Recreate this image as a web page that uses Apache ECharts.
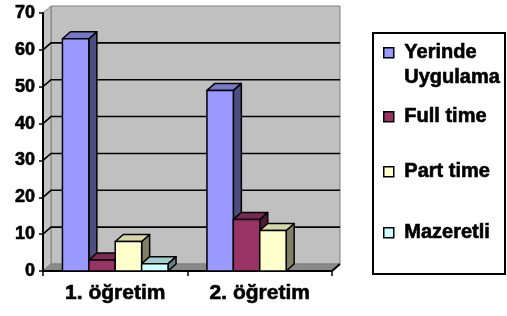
<!DOCTYPE html>
<html><head><meta charset="utf-8">
<script src="https://cdn.jsdelivr.net/npm/echarts@6/dist/echarts.min.js"></script>
<style>html,body{margin:0;padding:0;background:#fff}#c{width:507px;height:316px}</style>
</head><body><div id="c"></div>
<script>
// ---- data ----
const categories = ['1. öğretim', '2. öğretim'];
const seriesNames = ['Yerinde Uygulama', 'Full time', 'Part time', 'Mazeretli'];
const yerinde = [63, 49];
const fullTime = [3, 14];
const partTime = [8, 11];
const mazeretli = [2, 0];
const yTicks = [0, 10, 20, 30, 40, 50, 60, 70];

// ---- style ----
const frontColors = ['#9999FF', '#993366', '#FFFFCC', '#CCFFFF'];
const topColors = ['#7878C8', '#7A2952', '#D6D6A8', '#A3CCCC'];
const sideColors = ['#4D4D80', '#4D1A33', '#808066', '#668080'];
const DX = 8, DY = -7;
const BAR_FRAC = 0.1827;
const FONT = 'Liberation Sans';
const TB = {textBorderColor: '#000', textBorderWidth: 0.6};

const allValues = [yerinde, fullTime, partTime, mazeretli];

function barRenderer(si) {
  return function (params, api) {
    const v = api.value(1);
    if (!v) return null;
    const ci = api.value(0);
    const base = api.coord([ci, 0]);
    const tp = api.coord([ci, v]);
    const band = api.size([1, 0])[0];
    const w = band * BAR_FRAC;
    const x0 = base[0] - 2 * w + si * w;
    const x1 = x0 + w;
    const yb = base[1], yt = tp[1];
    const st = {stroke: '#000', lineWidth: 1.5, lineJoin: 'round'};
    return {type: 'group', children: [
      {type: 'polygon', shape: {points: [[x1, yb], [x1 + DX, yb + DY], [x1 + DX, yt + DY], [x1, yt]]}, style: Object.assign({fill: sideColors[si]}, st)},
      {type: 'polygon', shape: {points: [[x0, yt], [x1, yt], [x1 + DX, yt + DY], [x0 + DX, yt + DY]]}, style: Object.assign({fill: topColors[si]}, st)},
      {type: 'rect', shape: {x: x0, y: yt, width: w, height: yb - yt}, style: Object.assign({fill: frontColors[si]}, st)}
    ]};
  };
}

function wallRenderer(params, api) {
  const cs = params.coordSys;
  const L = cs.x, R = cs.x + cs.width, T = cs.y, B = cs.y + cs.height;
  const ch = [];
  ch.push({type: 'rect', shape: {x: L + DX, y: T + DY, width: R - L, height: B - T}, style: {fill: '#C0C0C0', stroke: '#808080', lineWidth: 1}});
  ch.push({type: 'polygon', shape: {points: [[L, T], [L + DX, T + DY], [L + DX, B + DY], [L, B]]}, style: {fill: '#C4C4C4', stroke: '#808080', lineWidth: 1}});
  ch.push({type: 'polygon', shape: {points: [[L, B], [R, B], [R + DX, B + DY], [L + DX, B + DY]]}, style: {fill: '#8A8A8A', stroke: '#808080', lineWidth: 1}});
  const first = yTicks[0], last = yTicks[yTicks.length - 1];
  yTicks.forEach(function (t) {
    if (t === first || t === last) return;
    const y = api.coord([0, t])[1];
    ch.push({type: 'polyline', shape: {points: [[L, y], [L + DX, y + DY], [R + DX, y + DY]]}, style: {stroke: '#000', lineWidth: 1.6, fill: null}});
  });
  ch.push({type: 'line', shape: {x1: R, y1: B, x2: R + DX, y2: B + DY}, style: {stroke: '#000', lineWidth: 2}});
  return {type: 'group', children: ch};
}

function textStyleOf(lh) {
  return Object.assign({fontFamily: FONT, fontSize: 20, fontWeight: 'bold', color: '#000', lineHeight: lh}, TB);
}

function mkLegend(name, top, extra) {
  return Object.assign({
    data: [name], left: 383, top: top, orient: 'vertical', padding: 0,
    itemWidth: 10, itemHeight: 10, icon: 'rect', selectedMode: false,
    itemGap: 0,
    itemStyle: {borderColor: '#000', borderWidth: 1.5},
    textStyle: textStyleOf(24),
    formatter: function (n) { return ' ' + n; }
  }, extra || {});
}

const series = [{
  type: 'custom', name: '_walls', z: -1, clip: false, silent: true,
  renderItem: wallRenderer, data: [[0, 0]], encode: {x: 0, y: 1}
}];
seriesNames.forEach(function (n, si) {
  series.push({
    type: 'custom', name: n, z: 2, clip: false,
    itemStyle: {color: frontColors[si]},
    renderItem: barRenderer(si),
    encode: {x: 0, y: 1},
    data: allValues[si].map(function (v, i) { return [i, v]; })
  });
});

const chart = echarts.init(document.getElementById('c'), null, {renderer: 'canvas'});
chart.setOption({
  animation: false,
  backgroundColor: '#fff',
  grid: {left: 43, right: 175, top: 13, bottom: 45, containLabel: false, outerBoundsMode: 'none'},
  xAxis: {
    type: 'category', data: categories, boundaryGap: true,
    axisLine: {lineStyle: {color: '#000', width: 2}},
    axisTick: {show: true, length: 5, lineStyle: {color: '#000', width: 1.5}},
    axisLabel: Object.assign({fontFamily: FONT, fontSize: 21, fontWeight: 'bold', color: '#000', margin: 12}, TB),
    splitLine: {show: false}
  },
  yAxis: {
    type: 'value', min: 0, max: 70, interval: 10,
    axisLine: {show: true, lineStyle: {color: '#000', width: 2}},
    axisTick: {show: true, length: 4, lineStyle: {color: '#000', width: 1.5}},
    axisLabel: Object.assign({fontFamily: FONT, fontSize: 18, fontWeight: 'bold', color: '#000', margin: 8}, TB),
    splitLine: {show: false}
  },
  legend: [
    mkLegend(seriesNames[0], 15.3, {
      formatter: function (n) { return '\n ' + n.replace(' ', '\n '); },
      textStyle: textStyleOf(25)
    }),
    mkLegend(seriesNames[1], 104.7),
    mkLegend(seriesNames[2], 159.7),
    mkLegend(seriesNames[3], 220.8)
  ],
  graphic: [{type: 'rect', shape: {x: 373, y: 33, width: 132, height: 241}, style: {fill: null, stroke: '#000', lineWidth: 2}, silent: true}],
  series: series
});
</script></body></html>
